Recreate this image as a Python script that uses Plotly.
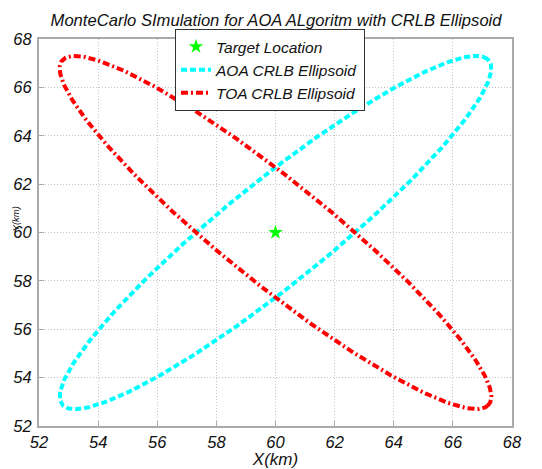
import numpy as np
import plotly.graph_objects as go

# Ellipse parameters: centre x, centre y, semi-major, semi-minor, angle (deg)
series_names = ["AOA CRLB Ellipsoid", "TOA CRLB Ellipsoid"]
center_x = [60.0, 60.0]
center_y = [60.0, 60.0]
semi_major = [10.14, 10.14]
semi_minor = [1.94, 1.94]
angle_deg = [45.0, -45.0]
line_colors = ["#00ffff", "#ff0000"]
line_dashes = ["6px,3px", "7px,3px,2px,3px"]

target_x = [60.0]
target_y = [60.0]

tick_vals = [52, 54, 56, 58, 60, 62, 64, 66, 68]

font_fam = "Liberation Sans, Arial, sans-serif"

fig = go.Figure()
fig.add_trace(go.Scatter(x=target_x, y=target_y, mode="markers", name="Target Location",
                         marker=dict(symbol="star", size=11, color="#00ff00",
                                     line=dict(width=0))))

t = np.linspace(0, 2 * np.pi, 400)
for i, name in enumerate(series_names):
    th = np.deg2rad(angle_deg[i])
    a, b = semi_major[i], semi_minor[i]
    xs = center_x[i] + a * np.cos(t) * np.cos(th) - b * np.sin(t) * np.sin(th)
    ys = center_y[i] + a * np.cos(t) * np.sin(th) + b * np.sin(t) * np.cos(th)
    fig.add_trace(go.Scatter(x=xs, y=ys, mode="lines", name=name,
                             line=dict(color=line_colors[i], width=4, dash=line_dashes[i])))

axis_common = dict(range=[52, 68], tickvals=tick_vals, showgrid=True,
                   gridcolor="#c4c4c4", griddash="1px,2px", gridwidth=1,
                   showline=True, linecolor="#aaaaaa", linewidth=2, mirror=True,
                   ticks="inside", ticklen=5, tickcolor="#aaaaaa",
                   zeroline=False, automargin=False,
                   tickfont=dict(family=font_fam, size=16.5, color="#111111", style="italic"))

# page body adds an 8px offset, so the figure is 8px smaller each way
fig.update_layout(
    width=534, height=461,
    margin=dict(l=31, r=30, t=31, b=43, autoexpand=False),
    paper_bgcolor="white", plot_bgcolor="white",
    font=dict(family=font_fam, size=16, color="#111111", style="italic"),
    title=dict(text="MonteCarlo SImulation for AOA ALgoritm with CRLB Ellipsoid",
               x=0.502, xanchor="center", y=0.973, yanchor="middle",
               font=dict(family=font_fam, size=16.6, color="#111111", style="italic")),
    xaxis=dict(**axis_common, title=dict(text="X(km)", standoff=3,
                                         font=dict(family=font_fam, size=17, style="italic"))),
    yaxis=dict(**axis_common, ticklabelstandoff=2),
    legend=dict(x=0.2875, y=1.026, xanchor="left", yanchor="top",
                bgcolor="white", bordercolor="#333333", borderwidth=1,
                font=dict(family=font_fam, size=15.5, color="#111111", style="italic"),
                tracegroupgap=0, itemwidth=30),
    showlegend=True,
)
fig.add_annotation(text="Y(km)", xref="paper", yref="paper", x=0, y=0.535,
                   xanchor="left", yanchor="middle", textangle=-90, showarrow=False,
                   xshift=-31,
                   font=dict(family=font_fam, size=9.5, color="#111111", style="italic"))

fig.write_html("out.html")
